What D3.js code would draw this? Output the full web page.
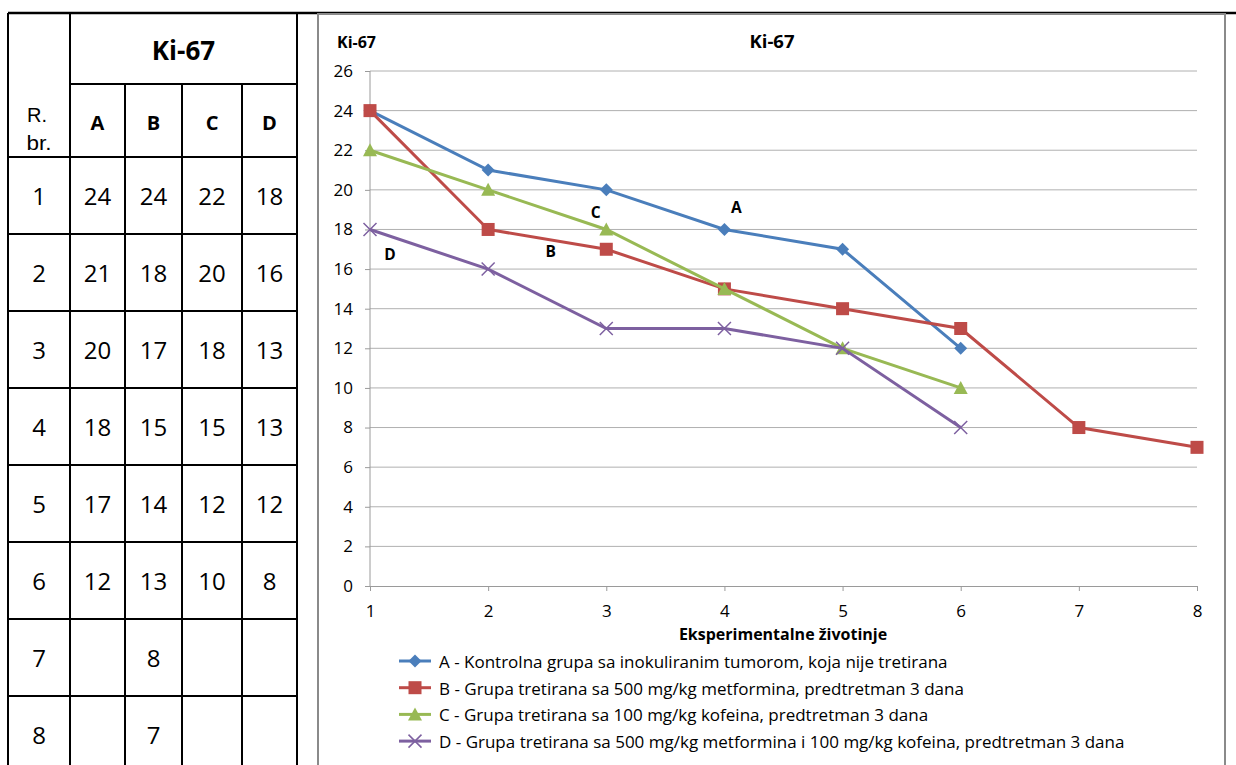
<!DOCTYPE html>
<html><head><meta charset="utf-8">
<script src="https://cdn.jsdelivr.net/npm/d3@7"></script>
<style>body{margin:0;background:#fff}svg{display:block}</style>
</head><body>
<svg id="c" width="1236" height="765"></svg>
<script>
const animals = [1,2,3,4,5,6,7,8];
const seriesA = [24,21,20,18,17,12];
const seriesB = [24,18,17,15,14,13,8,7];
const seriesC = [22,20,18,15,12,10];
const seriesD = [18,16,13,13,12,8];
const groupKeys = ["A","B","C","D"];
const legendLabels = [
 "A - Kontrolna grupa sa inokuliranim tumorom, koja nije tretirana",
 "B - Grupa tretirana sa 500 mg/kg metformina, predtretman 3 dana",
 "C - Grupa tretirana sa 100 mg/kg kofeina, predtretman 3 dana",
 "D - Grupa tretirana sa 500 mg/kg metformina i 100 mg/kg kofeina, predtretman 3 dana"
];
const yTicks = [0,2,4,6,8,10,12,14,16,18,20,22,24,26];
const colors = ["#4a7ebb","#be4b48","#98b954","#7d60a0"];
const markers = ["diamond","square","triangle","x"];
const seriesAll = [seriesA,seriesB,seriesC,seriesD];
const annot = [{k:"A",x:4.1,y:18.85},{k:"B",x:2.53,y:16.6},{k:"C",x:2.91,y:18.6},{k:"D",x:1.17,y:16.45}];

const svg = d3.select("#c");
const FONT = "'Open Sans', sans-serif";

// ---------- table ----------
const colX = [8,70,125,182,242,297];
const rowY = [13,84,157,234,311,388,465,542,619,696,773];
const tg = svg.append("g");
const ln = (x1,y1,x2,y2)=>tg.append("line").attr("x1",x1).attr("y1",y1).attr("x2",x2).attr("y2",y2).attr("stroke","#000").attr("stroke-width",2);
colX.forEach((x,i)=>{ const y1 = (i>=2 && i<=4) ? rowY[1] : rowY[0]; ln(x,y1,x,rowY[10]); });
ln(colX[1],rowY[1],colX[5],rowY[1]);
for(let r=2;r<rowY.length;r++) ln(colX[0],rowY[r],colX[5],rowY[r]);
svg.append("line").attr("x1",8).attr("x2",1236).attr("y1",13).attr("y2",13).attr("stroke","#000").attr("stroke-width",2.5);
tg.append("text").attr("x",(colX[1]+colX[5])/2).attr("y",60).attr("text-anchor","middle")
  .attr("font-family",FONT).attr("font-weight","bold").attr("font-size",26).text("Ki-67");
tg.append("text").attr("x",37).attr("y",122).attr("text-anchor","middle")
  .attr("font-family","'Liberation Sans', Arial, sans-serif").attr("font-size",21).attr("textLength",20).attr("lengthAdjust","spacingAndGlyphs").text("R.");
tg.append("text").attr("x",39).attr("y",150).attr("text-anchor","middle")
  .attr("font-family","'Liberation Sans', Arial, sans-serif").attr("font-size",21).attr("textLength",25).attr("lengthAdjust","spacingAndGlyphs").text("br.");
groupKeys.forEach((k,i)=>{
  tg.append("text").attr("x",(colX[i+1]+colX[i+2])/2).attr("y",130).attr("text-anchor","middle")
    .attr("font-family",FONT).attr("font-weight","bold").attr("font-size",20).text(k);
});
animals.forEach((a,r)=>{
  const cy = (rowY[r+2]+rowY[r+3])/2 + 9.5;
  tg.append("text").attr("x",(colX[0]+colX[1])/2).attr("y",cy).attr("text-anchor","middle")
    .attr("font-family",FONT).attr("font-size",24).text(a);
  seriesAll.forEach((s,i)=>{
    if(s[r]!==undefined)
      tg.append("text").attr("x",(colX[i+1]+colX[i+2])/2).attr("y",cy).attr("text-anchor","middle")
        .attr("font-family",FONT).attr("font-size",24).text(s[r]);
  });
});

// ---------- chart frame ----------
svg.append("rect").attr("x",318).attr("y",14).attr("width",907).attr("height",800)
  .attr("fill","#fff").attr("stroke","#8a8a8a").attr("stroke-width",2);

const x = d3.scaleLinear().domain([1,8]).range([370,1197]);
const y = d3.scaleLinear().domain([0,26]).range([586,71]);

const gGrid = svg.append("g");
gGrid.selectAll("line").data(yTicks.filter(d=>d>0)).join("line")
  .attr("x1",370).attr("x2",1197).attr("y1",d=>y(d)).attr("y2",d=>y(d))
  .attr("stroke","#b0b0b0").attr("stroke-width",1);

const yAxis = svg.append("g").attr("transform","translate(370,0)")
  .call(d3.axisLeft(y).tickValues(yTicks).tickFormat(d3.format("d")).tickSize(5).tickPadding(12));
const xAxis = svg.append("g").attr("transform","translate(0,586)")
  .call(d3.axisBottom(x).tickValues(animals).tickFormat(d3.format("d")).tickSize(5).tickPadding(14));
[yAxis,xAxis].forEach(a=>{
  a.selectAll("path,line").attr("stroke","#9a9a9a");
  a.selectAll("text").attr("font-family",FONT).attr("font-size",17).attr("fill","#000");
});
yAxis.select(".domain").attr("d","M0,"+y(26)+"V"+y(0));

svg.append("text").attr("x",337).attr("y",48).attr("font-family",FONT).attr("font-weight","bold").attr("font-size",16).text("Ki-67");
svg.append("text").attr("x",772).attr("y",48).attr("text-anchor","middle").attr("font-family",FONT).attr("font-weight","bold").attr("font-size",18.5).text("Ki-67");
svg.append("text").attr("x",783).attr("y",640).attr("text-anchor","middle").attr("font-family",FONT).attr("font-weight","bold").attr("font-size",16).text("Eksperimentalne životinje");

function marker(g,type,cx,cy,color){
  if(type==="diamond"){
    g.append("path").attr("d",`M${cx},${cy-6.5}L${cx+6.5},${cy}L${cx},${cy+6.5}L${cx-6.5},${cy}Z`).attr("fill",color);
  } else if(type==="square"){
    g.append("rect").attr("x",cx-6.5).attr("y",cy-6.5).attr("width",13).attr("height",13).attr("fill",color);
  } else if(type==="triangle"){
    g.append("path").attr("d",`M${cx},${cy-7}L${cx+7},${cy+6}L${cx-7},${cy+6}Z`).attr("fill",color);
  } else {
    g.append("path").attr("d",`M${cx-6.5},${cy-6.5}L${cx+6.5},${cy+6.5}M${cx+6.5},${cy-6.5}L${cx-6.5},${cy+6.5}`).attr("stroke",color).attr("stroke-width",1.5);
  }
}

const line = d3.line().x((d,i)=>x(animals[i])).y(d=>y(d));
seriesAll.forEach((s,i)=>{
  const g = svg.append("g");
  g.append("path").attr("d",line(s)).attr("fill","none").attr("stroke",colors[i]).attr("stroke-width",3);
  s.forEach((v,j)=>marker(g,markers[i],x(animals[j]),y(v),colors[i]));
});

annot.forEach(a=>{
  svg.append("text").attr("x",x(a.x)).attr("y",y(a.y)).attr("text-anchor","middle")
    .attr("font-family",FONT).attr("font-weight","bold").attr("font-size",15.5).text(a.k);
});

legendLabels.forEach((t,i)=>{
  const ly = 661 + i*26.7;
  const g = svg.append("g");
  g.append("line").attr("x1",399).attr("x2",431).attr("y1",ly).attr("y2",ly).attr("stroke",colors[i]).attr("stroke-width",3);
  marker(g,markers[i],415,ly,colors[i]);
  g.append("text").attr("x",439).attr("y",ly+7).attr("font-family",FONT).attr("font-size",17).text(t);
});
</script>
</body></html>
